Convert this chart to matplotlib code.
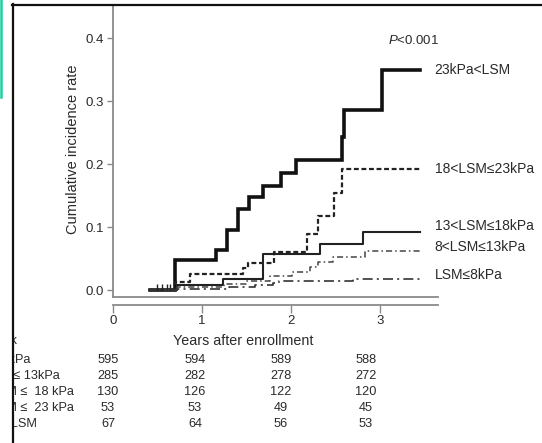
import matplotlib
matplotlib.use("Agg")
import matplotlib.pyplot as plt
from matplotlib.lines import Line2D

plt.rcParams['font.family'] = ['Liberation Sans', 'DejaVu Sans']
plt.rcParams['mathtext.fontset'] = 'custom'
plt.rcParams['mathtext.it'] = 'Liberation Sans:italic'
plt.rcParams['mathtext.rm'] = 'Liberation Sans'

# ---- cumulative incidence step curves (years, rate) ----
t_gt23 = [0.42, 0.70, 1.16, 1.28, 1.41, 1.53, 1.68, 1.89, 2.06, 2.57, 2.60, 3.02, 3.45]
v_gt23 = [0.0, 0.048, 0.063, 0.095, 0.129, 0.147, 0.165, 0.186, 0.206, 0.243, 0.286, 0.349, 0.349]

t_18_23 = [0.42, 0.70, 0.87, 1.46, 1.52, 1.81, 2.18, 2.30, 2.48, 2.57, 3.45]
v_18_23 = [0.0, 0.013, 0.025, 0.035, 0.043, 0.060, 0.089, 0.117, 0.154, 0.192, 0.192]

t_13_18 = [0.42, 0.72, 1.24, 1.68, 2.33, 2.81, 3.45]
v_13_18 = [0.0, 0.008, 0.017, 0.057, 0.073, 0.092, 0.092]

t_8_13 = [0.42, 0.72, 1.25, 1.50, 1.76, 2.01, 2.21, 2.30, 2.47, 2.83, 3.45]
v_8_13 = [0.0, 0.004, 0.009, 0.015, 0.022, 0.029, 0.037, 0.044, 0.052, 0.062, 0.062]

t_le8 = [0.42, 0.72, 1.30, 1.60, 1.80, 1.86, 2.70, 3.45]
v_le8 = [0.0, 0.002, 0.005, 0.008, 0.011, 0.014, 0.017, 0.017]

censor_t = [0.50, 0.55, 0.61, 0.64]

group_labels = ["23kPa<LSM", "18<LSM\u226423kPa", "13<LSM\u226418kPa",
                "8<LSM\u226413kPa", "LSM\u22648kPa"]

# ---- number at risk ----
risk_times = [0, 1, 2, 3]
risk_rows = ["LSM \u2264 8 kPa", "8 kPa < LSM \u2264 13kPa",
             "13 kPa < LSM \u2264  18 kPa", "18 kPa < LSM \u2264  23 kPa",
             "23 kPa < LSM"]
risk_le8 = [595, 594, 589, 588]
risk_8_13 = [285, 282, 278, 272]
risk_13_18 = [130, 126, 122, 120]
risk_18_23 = [53, 53, 49, 45]
risk_gt23 = [67, 64, 56, 53]

W, H = 542, 443
fig = plt.figure(figsize=(W / 100, H / 100), dpi=100)
fig.patch.set_facecolor('white')

def fx(px):
    return px / W

def fy(py):
    return 1 - py / H

AX_GRAY = '#8a8a8a'
TXT = '#2a2a2a'

ax = fig.add_axes([fx(113), fy(297), (438 - 113) / W, (297 - 5) / H])
ax.set_xlim(0, 3.652)
ax.set_ylim(-0.0111, 0.4524)
for s in ['top', 'right']:
    ax.spines[s].set_visible(False)
for s in ['left', 'bottom']:
    ax.spines[s].set_color(AX_GRAY)
    ax.spines[s].set_linewidth(1.3)
ax.tick_params(axis='x', bottom=False, labelbottom=False)
ax.set_yticks([0.0, 0.1, 0.2, 0.3, 0.4])
ax.set_yticklabels(["0.0", "0.1", "0.2", "0.3", "0.4"])
ax.tick_params(axis='y', length=4.5, width=1.0, color=AX_GRAY, pad=2,
               labelsize=9.5, labelcolor=TXT)

# curves
ax.step(t_gt23, v_gt23, where='post', color='#111111', lw=2.6, solid_joinstyle='miter')
ax.step(t_18_23, v_18_23, where='post', color='#222222', lw=1.6, linestyle=(0, (2.2, 1.2)))
ax.step(t_13_18, v_13_18, where='post', color='#222222', lw=1.5)
ax.step(t_8_13, v_8_13, where='post', color='#444444', lw=1.1, linestyle=(0, (4, 2, 1, 2)))
ax.step(t_le8, v_le8, where='post', color='#333333', lw=1.2, linestyle=(0, (6, 2.5, 1.2, 2.5)))
ax.plot(censor_t, [0.004] * len(censor_t), linestyle='none', marker='|',
        markersize=4, markeredgewidth=1.0, color='#222222')

# curve labels
label_y = [0.777, 0.438, 0.243, 0.171, 0.075]
for lab, yy in zip(group_labels, label_y):
    ax.text(0.99, yy, lab, transform=ax.transAxes, ha='left', va='center',
            fontsize=10, color=TXT, clip_on=False)
ax.text(0.926, 0.880, "$P$<0.001", transform=ax.transAxes, ha='center', va='center',
        fontsize=9.5, color=TXT, clip_on=False)

# separate x axis below the plot frame
sec = ax.secondary_xaxis(-8 / 292)
sec.set_xticks(risk_times)
sec.set_xticklabels([str(t) for t in risk_times])
sec.spines['bottom'].set_color(AX_GRAY)
sec.spines['bottom'].set_linewidth(1.3)
sec.tick_params(axis='x', direction='out', length=6, width=1.0, color=AX_GRAY,
                pad=1.5, labelsize=9.5, labelcolor=TXT)

fig.text(fx(73), fy(149), "Cumulative incidence rate", rotation=90,
         ha='center', va='center', fontsize=10.5, color=TXT)
fig.text(fx(243), fy(341), "Years after enrollment", ha='center', va='center',
         fontsize=10.3, color=TXT)

# number-at-risk table, clipped at the left frame edge
tab = fig.add_axes([fx(14), 0, 1 - fx(14), fy(330)])
tab.set_axis_off()
tab.set_xlim(0, 1)
tab.set_ylim(0, 1)
tab.text(fx(17), fy(341), "Number at risk", transform=fig.transFigure,
         ha='right', va='center', fontsize=9.2, color=TXT, clip_on=True)
col_x = [108, 195, 281, 366]
row_y = [360, 376, 392, 408, 424]
row_end = [30, 60, 74, 74, 37]
counts = [risk_le8, risk_8_13, risk_13_18, risk_18_23, risk_gt23]
for lab, vals, ry, re in zip(risk_rows, counts, row_y, row_end):
    tab.text(fx(re), fy(ry), lab, transform=fig.transFigure, ha='right', va='center',
             fontsize=9.2, color=TXT, clip_on=True)
    for cx, v in zip(col_x, vals):
        tab.text(fx(cx), fy(ry), str(v), transform=fig.transFigure, ha='center',
                 va='center', fontsize=9.2, color=TXT, clip_on=True)

# outer frame and side marker line
fig.add_artist(Line2D([fx(13), fx(13)], [fy(4), fy(443)], color='#111111', lw=1.6,
                      transform=fig.transFigure))
fig.add_artist(Line2D([fx(12.3), 1], [fy(5), fy(5)], color='#111111', lw=1.6,
                      transform=fig.transFigure))
fig.add_artist(Line2D([fx(1), fx(1)], [1, fy(97)], color='#1ccf9f', lw=1.8,
                      transform=fig.transFigure))

fig.savefig("out.png", dpi=100)
